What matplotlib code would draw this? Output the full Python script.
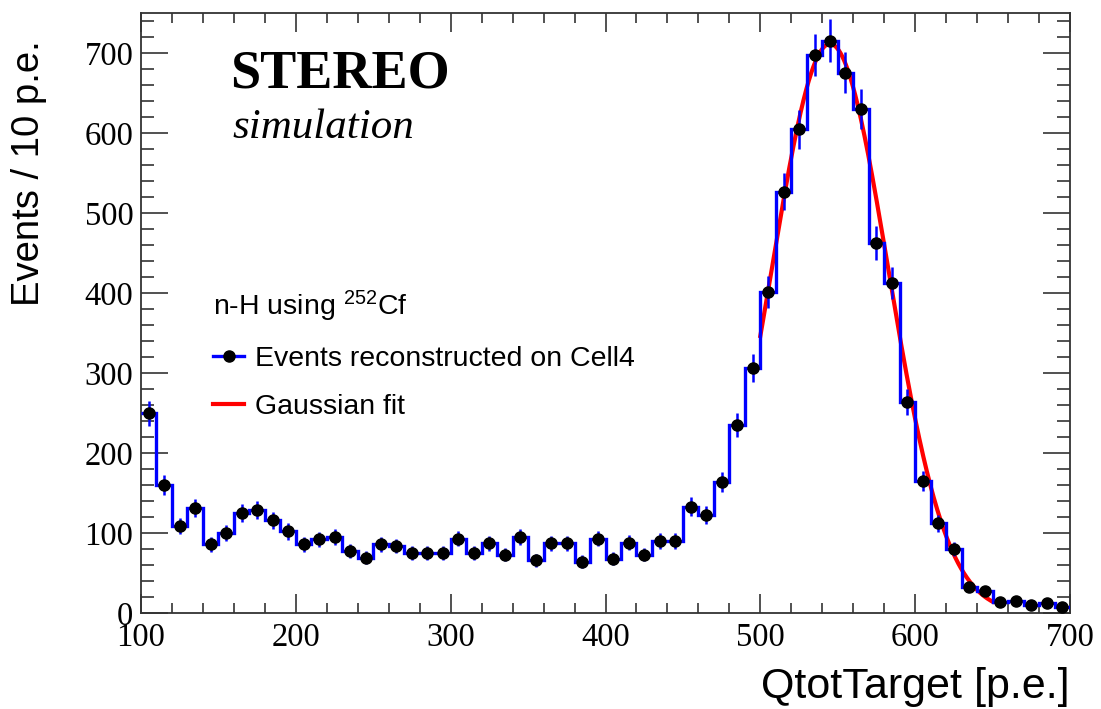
import numpy as np
import matplotlib
matplotlib.use("Agg")
import matplotlib.pyplot as plt
from matplotlib.lines import Line2D
from matplotlib.ticker import MultipleLocator

# ---------------- data ----------------
bin_edges = np.arange(100, 701, 10)
counts = [250, 160, 109, 131, 86, 100, 125, 129, 116, 102,
          86, 92, 95, 77, 69, 86, 84, 75, 75, 75,
          93, 75, 87, 73, 95, 66, 87, 87, 64, 93,
          68, 88, 73, 90, 90, 133, 123, 164, 235, 306,
          402, 527, 605, 698, 716, 676, 630, 463, 413, 264,
          165, 112, 80, 32, 27, 14, 15, 10, 12, 8]
fit_amp = 712.0
fit_mean = 545.0
fit_sigma = 37.5
fit_range = (500, 650)

xlabel = "QtotTarget [p.e.]"
ylabel = "Events / 10 p.e."
legend_title = r"n-H using $^{252}$Cf"
legend_labels = ["Events reconstructed on Cell4", "Gaussian fit"]

# ---------------- style ----------------
plt.rcParams['mathtext.fontset'] = 'custom'
plt.rcParams['mathtext.rm'] = 'Liberation Sans'
plt.rcParams['mathtext.it'] = 'Liberation Sans:italic'

W, H = 1101, 709
fig = plt.figure(figsize=(W / 100, H / 100), dpi=100)
ax = fig.add_axes([141 / W, 1 - 613 / H, (1070 - 141) / W, (613 - 12.7) / H])

counts = np.asarray(counts, dtype=float)
centers = 0.5 * (bin_edges[:-1] + bin_edges[1:])

# Gaussian fit curve
xf = np.linspace(fit_range[0], fit_range[1], 400)
yf = fit_amp * np.exp(-0.5 * ((xf - fit_mean) / fit_sigma) ** 2)
ax.plot(xf, yf, color='#ff0000', lw=3.0, zorder=2)

# histogram
ax.stairs(counts, bin_edges, color='#0000ff', lw=2.4, zorder=3, baseline=None)
ax.errorbar(centers, counts, yerr=np.sqrt(counts), fmt='o', color='black',
            ecolor='#0000ff', elinewidth=1.8, capsize=0, markersize=8,
            zorder=4)

ax.set_xlim(100, 700)
ax.set_ylim(0, 751)

ax.xaxis.set_major_locator(MultipleLocator(100))
ax.xaxis.set_minor_locator(MultipleLocator(20))
ax.yaxis.set_major_locator(MultipleLocator(100))
ax.yaxis.set_minor_locator(MultipleLocator(20))

ax.tick_params(axis='both', which='both', direction='in', top=True, right=True,
               width=1.1, color='#222222')
ax.tick_params(axis='x', which='major', length=13.7, pad=7)
ax.tick_params(axis='x', which='minor', length=6.9)
ax.tick_params(axis='y', which='major', length=19.4, pad=5.5)
ax.tick_params(axis='y', which='minor', length=9.7)
for lab in ax.get_xticklabels() + ax.get_yticklabels():
    lab.set_fontfamily('Liberation Serif')
    lab.set_fontsize(23.5)
for sp in ax.spines.values():
    sp.set_linewidth(1.3)
    sp.set_color('#333333')

# axis titles
fig.text(1070 / W, 1 - 698 / H, xlabel, ha='right', va='baseline',
         fontsize=31, family='Liberation Sans')
fig.text(29 / W, 1 - 40 / H, ylabel, rotation=90, ha='center', va='top',
         fontsize=27.5, family='Liberation Sans')

# STEREO labels
fig.text(230 / W, 1 - 88 / H, "STEREO", ha='left', va='baseline',
         fontsize=39, family='Liberation Serif', weight='bold')
fig.text(232 / W, 1 - 138 / H, "simulation", ha='left', va='baseline',
         fontsize=31, family='Liberation Serif', style='italic')

# legend
handles = [Line2D([], [], color='#0000ff', lw=2.4, marker='o',
                  markerfacecolor='black', markeredgecolor='black', markersize=8),
           Line2D([], [], color='#ff0000', lw=3.0)]
leg = ax.legend(handles, legend_labels, title=legend_title, loc='upper left',
                bbox_to_anchor=((213 - 141) / 929, (613 - 289) / 600.3),
                frameon=False, fontsize=20.5, title_fontsize=20.5,
                handlelength=1.09, handletextpad=0.39, labelspacing=0.77,
                alignment='left', borderaxespad=0, borderpad=0)
for t in leg.get_texts():
    t.set_fontfamily('Liberation Sans')
leg.get_title().set_fontfamily('Liberation Sans')

fig.savefig("out.png", dpi=100)
